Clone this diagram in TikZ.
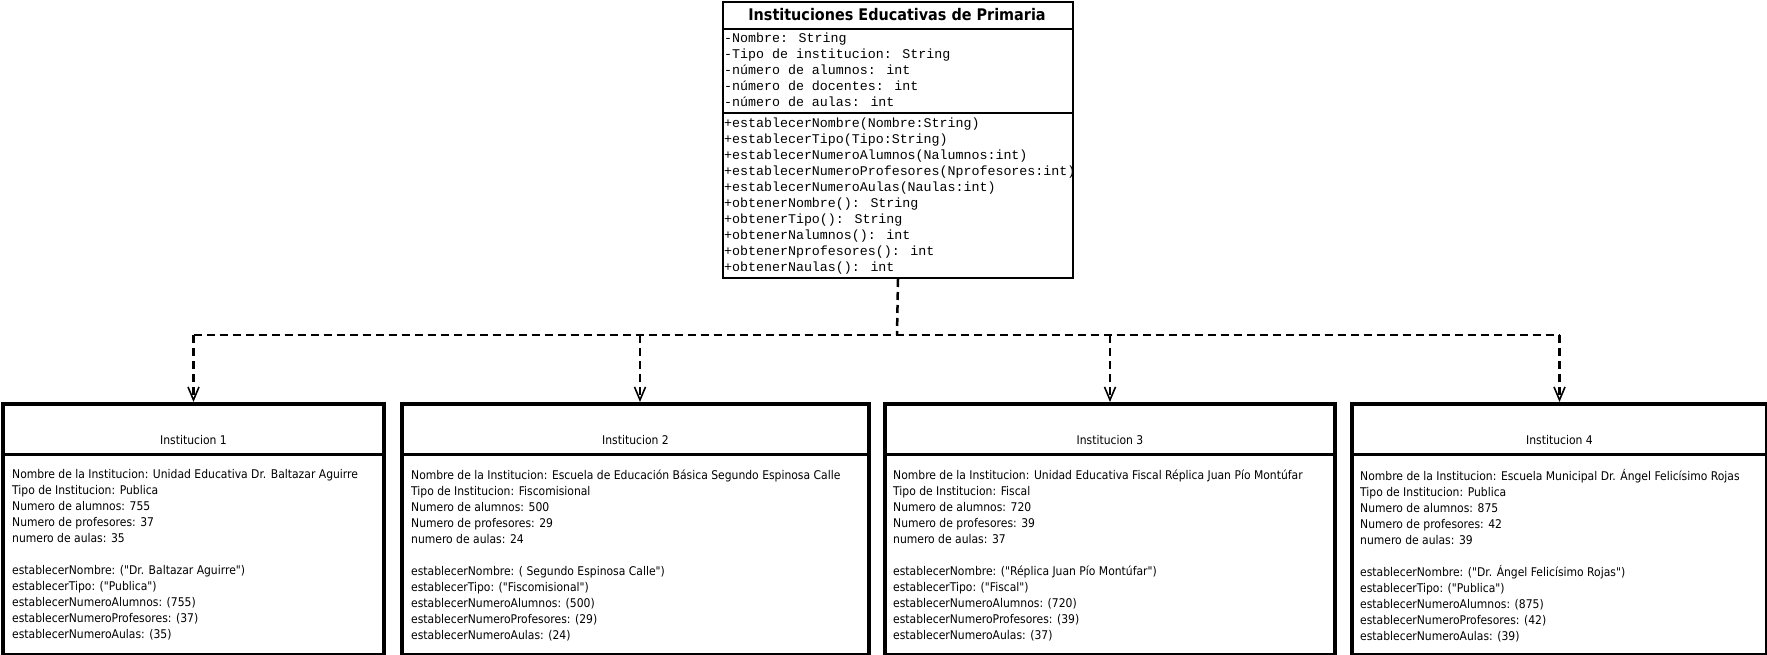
\documentclass[tikz,border=0pt]{standalone}
\usepackage{fontspec}
\setmainfont{DejaVu Sans Condensed}[Ligatures=TeXOff]
\newfontfamily\monofuente{Liberation Mono}[Ligatures=TeXOff]
\usetikzlibrary{arrows.meta}

\tikzset{
  clase/.style={draw, line width=2pt, anchor=north west, inner sep=0pt},
  instancia/.style={draw, line width=4pt, anchor=north west, inner sep=0pt},
  conector/.style={line width=2.5pt, dash pattern=on 8pt off 5pt},
  flecha/.style={conector, -{Straight Barb[length=13pt,width=11pt,line width=1.6pt]}},
  miembros/.style={anchor=north west, inner sep=0pt, align=left, font=\monofuente\fontsize{13.3}{16}\selectfont},
  datos/.style={anchor=north west, inner sep=0pt, align=left, font=\fontsize{12}{16}\selectfont},
  cabecera/.style={font=\fontsize{12}{16}\selectfont, inner sep=0pt}
}

\begin{document}
\begin{tikzpicture}[x=1pt,y=-1pt]
\useasboundingbox[fill=white] (0,0) rectangle (1767,655);

% Clase principal
\node[clase, minimum width=350, minimum height=276] (padre) at (722,1) {};
\draw[line width=2pt] ([yshift=-28]padre.north west) -- ([yshift=-28]padre.north east);
\draw[line width=2pt] ([yshift=-112]padre.north west) -- ([yshift=-112]padre.north east);
\node[font=\bfseries\fontsize{16}{18}\selectfont] (titulo) at (897,15) {Instituciones Educativas de Primaria};
\node[miembros] (atributos) at (724,32.7) {-Nombre: String\\
-Tipo de institucion: String\\
-número de alumnos: int\\
-número de docentes: int\\
-número de aulas: int};
\node[miembros] (metodos) at (724,117.5) {+establecerNombre(Nombre:String)\\
+establecerTipo(Tipo:String)\\
+establecerNumeroAlumnos(Nalumnos:int)\\
+establecerNumeroProfesores(Nprofesores:int)\\
+establecerNumeroAulas(Naulas:int)\\
+obtenerNombre(): String\\
+obtenerTipo(): String\\
+obtenerNalumnos(): int\\
+obtenerNprofesores(): int\\
+obtenerNaulas(): int};

% Instancias
\node[instancia, minimum width=381, minimum height=251] (inst1) at (1,402) {};
\node[instancia, minimum width=467, minimum height=251] (inst2) at (400,402) {};
\node[instancia, minimum width=450, minimum height=251] (inst3) at (883,402) {};
\node[instancia, minimum width=415, minimum height=251] (inst4) at (1350,402) {};

\draw[line width=3pt] ([yshift=-52]inst1.north west) -- ([yshift=-52]inst1.north east);
\draw[line width=3pt] ([yshift=-52]inst2.north west) -- ([yshift=-52]inst2.north east);
\draw[line width=3pt] ([yshift=-52]inst3.north west) -- ([yshift=-52]inst3.north east);
\draw[line width=3pt] ([yshift=-52]inst4.north west) -- ([yshift=-52]inst4.north east);

\node[cabecera] (nombre1) at ([yshift=-38]inst1.north) {Institucion 1};
\node[cabecera] (nombre2) at ([yshift=-38]inst2.north) {Institucion 2};
\node[cabecera] (nombre3) at ([yshift=-38]inst3.north) {Institucion 3};
\node[cabecera] (nombre4) at ([yshift=-38]inst4.north) {Institucion 4};

\node[datos] (datos1) at (12,469.5) {Nombre de la Institucion: Unidad Educativa Dr. Baltazar Aguirre\\
Tipo de Institucion: Publica\\
Numero de alumnos: 755\\
Numero de profesores: 37\\
numero de aulas: 35\\[16pt]
establecerNombre: ("Dr. Baltazar Aguirre")\\
establecerTipo: ("Publica")\\
establecerNumeroAlumnos: (755)\\
establecerNumeroProfesores: (37)\\
establecerNumeroAulas: (35)};

\node[datos] (datos2) at (411,469.5) {Nombre de la Institucion: Escuela de Educación Básica Segundo Espinosa Calle\\
Tipo de Institucion: Fiscomisional\\
Numero de alumnos: 500\\
Numero de profesores: 29\\
numero de aulas: 24\\[16pt]
establecerNombre: ( Segundo Espinosa Calle")\\
establecerTipo: ("Fiscomisional")\\
establecerNumeroAlumnos: (500)\\
establecerNumeroProfesores: (29)\\
establecerNumeroAulas: (24)};

\node[datos] (datos3) at (893,469.5) {Nombre de la Institucion: Unidad Educativa Fiscal Réplica Juan Pío Montúfar\\
Tipo de Institucion: Fiscal\\
Numero de alumnos: 720\\
Numero de profesores: 39\\
numero de aulas: 37\\[16pt]
establecerNombre: ("Réplica Juan Pío Montúfar")\\
establecerTipo: ("Fiscal")\\
establecerNumeroAlumnos: (720)\\
establecerNumeroProfesores: (39)\\
establecerNumeroAulas: (37)};

\node[datos] (datos4) at (1360,469.5) {Nombre de la Institucion: Escuela Municipal Dr. Ángel Felicísimo Rojas\\
Tipo de Institucion: Publica\\
Numero de alumnos: 875\\
Numero de profesores: 42\\
numero de aulas: 39\\[16pt]
establecerNombre: ("Dr. Ángel Felicísimo Rojas")\\
establecerTipo: ("Publica")\\
establecerNumeroAlumnos: (875)\\
establecerNumeroProfesores: (42)\\
establecerNumeroAulas: (39)};

% Conectores
\coordinate (union) at (897,335);
\coordinate (entrada2) at ([xshift=4.5]inst2.north);
\draw[conector] (padre.south) -- (union);
\draw[conector] (inst1.north |- union) -- (inst4.north |- union);
\draw[flecha] (inst1.north |- union) -- (inst1.north);
\draw[flecha] (entrada2 |- union) -- (entrada2);
\draw[flecha] (inst3.north |- union) -- (inst3.north);
\draw[flecha] (inst4.north |- union) -- (inst4.north);
\end{tikzpicture}
\end{document}
